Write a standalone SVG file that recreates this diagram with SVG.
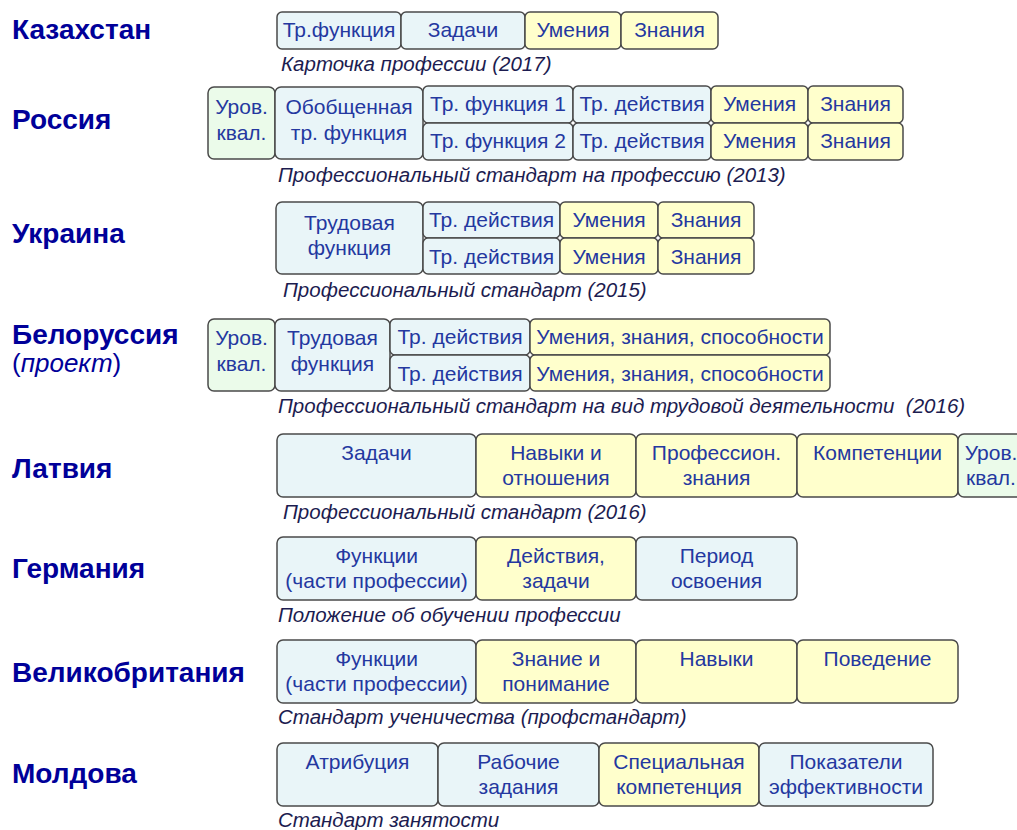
<svg xmlns="http://www.w3.org/2000/svg" width="1017" height="830" viewBox="0 0 1017 830">
<style>
.b,.y,.g{stroke:#4a4a4a;stroke-width:1.5}
.b{fill:#e9f5f8}.y{fill:#ffffcc}.g{fill:#ebfbea}
.t{font-family:"Liberation Sans",Arial,sans-serif;font-size:21px;fill:#2438a0;text-anchor:middle}
.c{font-family:"Liberation Sans",Arial,sans-serif;font-size:20.5px;font-style:italic;fill:#1c1c50}
.h{font-family:"Liberation Sans",Arial,sans-serif;font-size:28px;font-weight:bold;fill:#000099}
.p{font-family:"Liberation Sans",Arial,sans-serif;font-size:26px;fill:#000099}
</style>
<rect x="0" y="0" width="1017" height="830" fill="#ffffff"/>

<g id="labels">
<text class="h" x="12" y="39">Казахстан</text>
<text class="h" x="12" y="129">Россия</text>
<text class="h" x="12" y="243">Украина</text>
<text class="h" x="12" y="344">Белоруссия</text>
<text class="p" x="12" y="372">(<tspan font-style="italic">проект</tspan>)</text>
<text class="h" x="12" y="478">Латвия</text>
<text class="h" x="12" y="578">Германия</text>
<text class="h" x="12" y="682">Великобритания</text>
<text class="h" x="12" y="783">Молдова</text>
</g>

<!-- Kazakhstan -->
<g id="kz">
<g id="kz1"><rect class="b" x="277" y="12" width="124" height="37" rx="5"/><text class="t" x="339" y="37">Тр.функция</text></g>
<g id="kz2"><rect class="b" x="401" y="12" width="124" height="37" rx="5"/><text class="t" x="463" y="37">Задачи</text></g>
<g id="kz3"><rect class="y" x="525" y="12" width="96" height="37" rx="5"/><text class="t" x="573" y="37">Умения</text></g>
<g id="kz4"><rect class="y" x="621" y="12" width="97" height="37" rx="5"/><text class="t" x="669.5" y="37">Знания</text></g>
<text class="c" x="281" y="71">Карточка профессии (2017)</text>
</g>

<!-- Russia -->
<g id="ru">
<g id="ru1"><rect class="g" x="208" y="87" width="67" height="72" rx="6"/><text class="t" x="241.5" y="114">Уров.</text><text class="t" x="241.5" y="140">квал.</text></g>
<g id="ru2"><rect class="b" x="275" y="87" width="148" height="72" rx="6"/><text class="t" x="349" y="114">Обобщенная</text><text class="t" x="349" y="140">тр. функция</text></g>
<g id="ru3"><rect class="b" x="423" y="86" width="150" height="37" rx="5"/><text class="t" x="498" y="111">Тр. функция 1</text></g>
<g id="ru4"><rect class="b" x="423" y="123" width="150" height="37" rx="5"/><text class="t" x="498" y="148">Тр. функция 2</text></g>
<g id="ru5"><rect class="b" x="573" y="86" width="138" height="37" rx="5"/><text class="t" x="642" y="111">Тр. действия</text></g>
<g id="ru6"><rect class="b" x="573" y="123" width="138" height="37" rx="5"/><text class="t" x="642" y="148">Тр. действия</text></g>
<g id="ru7"><rect class="y" x="711" y="86" width="97" height="37" rx="5"/><text class="t" x="759.5" y="111">Умения</text></g>
<g id="ru8"><rect class="y" x="711" y="123" width="97" height="37" rx="5"/><text class="t" x="759.5" y="148">Умения</text></g>
<g id="ru9"><rect class="y" x="808" y="86" width="95" height="37" rx="5"/><text class="t" x="855.5" y="111">Знания</text></g>
<g id="ru10"><rect class="y" x="808" y="123" width="95" height="37" rx="5"/><text class="t" x="855.5" y="148">Знания</text></g>
<text class="c" x="278" y="182">Профессиональный стандарт на профессию (2013)</text>
</g>

<!-- Ukraine -->
<g id="ua">
<g id="ua1"><rect class="b" x="276" y="202" width="147" height="72" rx="6"/><text class="t" x="349.5" y="230">Трудовая</text><text class="t" x="349.5" y="255">функция</text></g>
<g id="ua2"><rect class="b" x="423" y="202" width="137" height="36" rx="5"/><text class="t" x="491.5" y="227">Тр. действия</text></g>
<g id="ua3"><rect class="b" x="423" y="238" width="137" height="36" rx="5"/><text class="t" x="491.5" y="264">Тр. действия</text></g>
<g id="ua4"><rect class="y" x="560" y="202" width="98" height="36" rx="5"/><text class="t" x="609" y="227">Умения</text></g>
<g id="ua5"><rect class="y" x="560" y="238" width="98" height="36" rx="5"/><text class="t" x="609" y="264">Умения</text></g>
<g id="ua6"><rect class="y" x="658" y="202" width="96" height="36" rx="5"/><text class="t" x="706" y="227">Знания</text></g>
<g id="ua7"><rect class="y" x="658" y="238" width="96" height="36" rx="5"/><text class="t" x="706" y="264">Знания</text></g>
<text class="c" x="283" y="297">Профессиональный стандарт (2015)</text>
</g>

<!-- Belarus -->
<g id="by">
<g id="by1"><rect class="g" x="208" y="319" width="67" height="72" rx="6"/><text class="t" x="241.5" y="345">Уров.</text><text class="t" x="241.5" y="371">квал.</text></g>
<g id="by2"><rect class="b" x="275" y="319" width="115" height="72" rx="6"/><text class="t" x="332.5" y="345">Трудовая</text><text class="t" x="332.5" y="371">функция</text></g>
<g id="by3"><rect class="b" x="390" y="319" width="140" height="36" rx="5"/><text class="t" x="460" y="344">Тр. действия</text></g>
<g id="by4"><rect class="b" x="390" y="355" width="140" height="36" rx="5"/><text class="t" x="460" y="381">Тр. действия</text></g>
<g id="by5"><rect class="y" x="530" y="319" width="300" height="36" rx="5"/><text class="t" x="680" y="344">Умения, знания, способности</text></g>
<g id="by6"><rect class="y" x="530" y="355" width="300" height="36" rx="5"/><text class="t" x="680" y="381">Умения, знания, способности</text></g>
<text class="c" x="278" y="413" xml:space="preserve">Профессиональный стандарт на вид трудовой деятельности  (2016)</text>
</g>

<!-- Latvia -->
<g id="lv">
<g id="lv1"><rect class="b" x="277" y="434" width="199" height="63" rx="6"/><text class="t" x="376.5" y="460">Задачи</text></g>
<g id="lv2"><rect class="y" x="476" y="434" width="160" height="63" rx="6"/><text class="t" x="556" y="460">Навыки и</text><text class="t" x="556" y="485">отношения</text></g>
<g id="lv3"><rect class="y" x="636" y="434" width="161" height="63" rx="6"/><text class="t" x="716.5" y="460">Профессион.</text><text class="t" x="716.5" y="485">знания</text></g>
<g id="lv4"><rect class="y" x="797" y="434" width="161" height="63" rx="6"/><text class="t" x="877.5" y="460">Компетенции</text></g>
<g id="lv5"><rect class="g" x="958" y="434" width="68" height="63" rx="6"/><text class="t" x="991" y="460">Уров.</text><text class="t" x="991" y="485">квал.</text></g>
<text class="c" x="283" y="519">Профессиональный стандарт (2016)</text>
</g>

<!-- Germany -->
<g id="de">
<g id="de1"><rect class="b" x="277" y="537" width="199" height="63" rx="6"/><text class="t" x="376.5" y="563">Функции</text><text class="t" x="376.5" y="588">(части профессии)</text></g>
<g id="de2"><rect class="y" x="476" y="537" width="160" height="63" rx="6"/><text class="t" x="556" y="563">Действия,</text><text class="t" x="556" y="588">задачи</text></g>
<g id="de3"><rect class="b" x="636" y="537" width="161" height="63" rx="6"/><text class="t" x="716.5" y="563">Период</text><text class="t" x="716.5" y="588">освоения</text></g>
<text class="c" x="278" y="622">Положение об обучении профессии</text>
</g>

<!-- UK -->
<g id="gb">
<g id="gb1"><rect class="b" x="277" y="640" width="199" height="63" rx="6"/><text class="t" x="376.5" y="666">Функции</text><text class="t" x="376.5" y="691">(части профессии)</text></g>
<g id="gb2"><rect class="y" x="476" y="640" width="160" height="63" rx="6"/><text class="t" x="556" y="666">Знание и</text><text class="t" x="556" y="691">понимание</text></g>
<g id="gb3"><rect class="y" x="636" y="640" width="161" height="63" rx="6"/><text class="t" x="716.5" y="666">Навыки</text></g>
<g id="gb4"><rect class="y" x="797" y="640" width="161" height="63" rx="6"/><text class="t" x="877.5" y="666">Поведение</text></g>
<text class="c" x="278" y="724">Стандарт ученичества (профстандарт)</text>
</g>

<!-- Moldova -->
<g id="md">
<g id="md1"><rect class="b" x="277" y="743" width="161" height="63" rx="6"/><text class="t" x="357.5" y="769">Атрибуция</text></g>
<g id="md2"><rect class="b" x="438" y="743" width="161" height="63" rx="6"/><text class="t" x="518.5" y="769">Рабочие</text><text class="t" x="518.5" y="794">задания</text></g>
<g id="md3"><rect class="y" x="599" y="743" width="160" height="63" rx="6"/><text class="t" x="679" y="769">Специальная</text><text class="t" x="679" y="794">компетенция</text></g>
<g id="md4"><rect class="b" x="759" y="743" width="174" height="63" rx="6"/><text class="t" x="846" y="769">Показатели</text><text class="t" x="846" y="794">эффективности</text></g>
<text class="c" x="278" y="827">Стандарт занятости</text>
</g>
</svg>
